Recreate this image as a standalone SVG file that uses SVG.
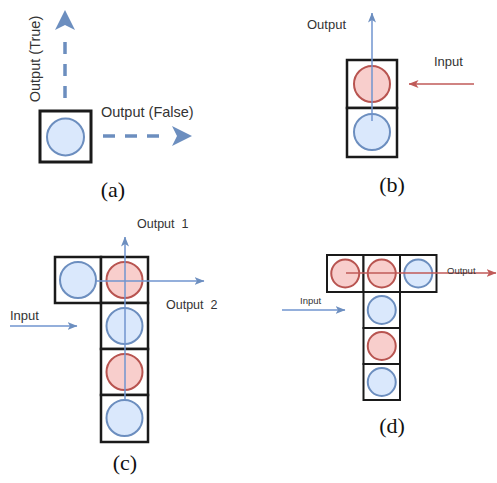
<svg xmlns="http://www.w3.org/2000/svg" width="497" height="483" viewBox="0 0 497 483">
  <style>
    .cell { fill: #ffffff; stroke: #1a1a1a; }
    .blue { fill: #dae8fc; stroke: #6c8ebf; stroke-width: 2; }
    .red { fill: #f8cecc; stroke: #b85450; stroke-width: 2; }
    .lbl { font-family: "Liberation Sans", Arial, sans-serif; fill: #333333; }
    .cap { font-family: "Liberation Serif", "Times New Roman", serif; font-size: 22px; fill: #111111; text-anchor: middle; }
    .wire-b { stroke: #7094cf; stroke-width: 1.5; fill: none; }
    .wire-r { stroke: #c05a58; stroke-width: 1.5; fill: none; }
    .dash { stroke: #6c8ebf; stroke-width: 3.5; fill: none; stroke-dasharray: 12 10; }
  </style>
  <defs>
    <marker id="headBlue" viewBox="0 0 10 8" refX="9.5" refY="4" markerWidth="10" markerHeight="8" markerUnits="userSpaceOnUse" orient="auto">
      <path d="M0,0 L10,4 L0,8 L2.5,4 Z" fill="#6c8ebf"/>
    </marker>
    <marker id="headRed" viewBox="0 0 10 8" refX="9.5" refY="4" markerWidth="10" markerHeight="8" markerUnits="userSpaceOnUse" orient="auto">
      <path d="M0,0 L10,4 L0,8 L2.5,4 Z" fill="#c05a58"/>
    </marker>
  </defs>

  <!-- (a) single cell with two dashed outputs -->
  <g id="a-cell">
    <rect class="cell" x="40" y="111" width="51" height="51" stroke-width="3"/>
    <circle class="blue" cx="65.5" cy="137" r="18.5"/>
  </g>
  <g id="a-connectors">
    <path class="dash" d="M65,98 V34"/>
    <polygon points="65,10 55,30 65,25 75,30" fill="#6c8ebf"/>
    <path class="dash" d="M103,136 H168"/>
    <polygon points="192,136 172,126 177,136 172,146" fill="#6c8ebf"/>
  </g>
  <text class="lbl" font-size="14.5" text-anchor="middle" transform="translate(40,59) rotate(-90)">Output (True)</text>
  <text class="lbl" x="101" y="117" font-size="14.5">Output (False)</text>
  <text class="cap" x="113" y="197">(a)</text>

  <!-- (b) two stacked cells -->
  <g id="b-top">
    <rect class="cell" x="347" y="60" width="50" height="48" stroke-width="2.5"/>
    <circle class="red" cx="372" cy="84" r="18"/>
  </g>
  <g id="b-bottom">
    <rect class="cell" x="347" y="108" width="50" height="49" stroke-width="2.5"/>
    <circle class="blue" cx="372" cy="132" r="18"/>
  </g>
  <g id="b-connectors">
    <line class="wire-b" x1="372" y1="121" x2="372" y2="13" marker-end="url(#headBlue)"/>
    <line class="wire-r" x1="474" y1="84" x2="409" y2="84" marker-end="url(#headRed)"/>
  </g>
  <text class="lbl" x="307" y="29" font-size="13">Output</text>
  <text class="lbl" x="434" y="66" font-size="13">Input</text>
  <text class="cap" x="392" y="192">(b)</text>

  <!-- (c) L-shaped arrangement -->
  <g id="c-left">
    <rect class="cell" x="55" y="257" width="46" height="46" stroke-width="2.5"/>
    <circle class="blue" cx="78" cy="280" r="18"/>
  </g>
  <g id="c-row1">
    <rect class="cell" x="101" y="257" width="47" height="46" stroke-width="2.5"/>
    <circle class="red" cx="124.5" cy="280" r="18"/>
  </g>
  <g id="c-row2">
    <rect class="cell" x="101" y="303" width="47" height="46" stroke-width="2.5"/>
    <circle class="blue" cx="124.5" cy="326" r="18"/>
  </g>
  <g id="c-row3">
    <rect class="cell" x="101" y="349" width="47" height="46" stroke-width="2.5"/>
    <circle class="red" cx="124.5" cy="372" r="18"/>
  </g>
  <g id="c-row4">
    <rect class="cell" x="101" y="395" width="47" height="47" stroke-width="2.5"/>
    <circle class="blue" cx="124.5" cy="418" r="18"/>
  </g>
  <g id="c-connectors">
    <line class="wire-b" x1="125" y1="400" x2="125" y2="237" marker-end="url(#headBlue)"/>
    <line class="wire-b" x1="96" y1="281" x2="204" y2="281" marker-end="url(#headBlue)"/>
    <line class="wire-b" x1="10" y1="326" x2="77" y2="326" marker-end="url(#headBlue)"/>
  </g>
  <text class="lbl" x="137" y="228" font-size="12.5" xml:space="preserve">Output  1</text>
  <text class="lbl" x="166" y="309" font-size="12.5" xml:space="preserve">Output  2</text>
  <text class="lbl" x="10" y="320" font-size="13">Input</text>
  <text class="cap" x="125" y="470">(c)</text>

  <!-- (d) T-shaped arrangement -->
  <g id="d-top-left">
    <rect class="cell" x="327" y="255" width="36.5" height="37" stroke-width="2"/>
    <circle class="red" cx="345.25" cy="273.5" r="14"/>
  </g>
  <g id="d-top-mid">
    <rect class="cell" x="363.5" y="255" width="36.5" height="37" stroke-width="2"/>
    <circle class="red" cx="381.75" cy="273.5" r="14"/>
  </g>
  <g id="d-top-right">
    <rect class="cell" x="400" y="255" width="36.5" height="37" stroke-width="2"/>
    <circle class="blue" cx="418.25" cy="273.5" r="14"/>
  </g>
  <g id="d-col1">
    <rect class="cell" x="363.5" y="292" width="36.5" height="36" stroke-width="2"/>
    <circle class="blue" cx="381.75" cy="310" r="14"/>
  </g>
  <g id="d-col2">
    <rect class="cell" x="363.5" y="328" width="36.5" height="36" stroke-width="2"/>
    <circle class="red" cx="381.75" cy="346" r="14"/>
  </g>
  <g id="d-col3">
    <rect class="cell" x="363.5" y="364" width="36.5" height="36" stroke-width="2"/>
    <circle class="blue" cx="381.75" cy="382" r="14"/>
  </g>
  <g id="d-connectors">
    <line class="wire-r" x1="346" y1="273" x2="496" y2="273" stroke-width="1.2" marker-end="url(#headRed)"/>
    <line class="wire-b" x1="282" y1="310" x2="345" y2="310" stroke-width="1.2" marker-end="url(#headBlue)"/>
  </g>
  <text class="lbl" x="447" y="274" font-size="9.5">Output</text>
  <text class="lbl" x="300" y="304" font-size="9.5">Input</text>
  <text class="cap" x="392" y="433">(d)</text>
</svg>
